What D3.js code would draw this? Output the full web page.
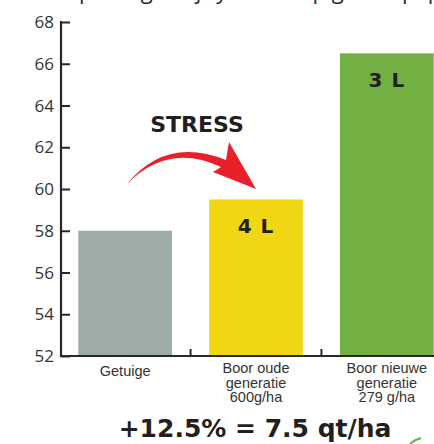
<!DOCTYPE html>
<html>
<head>
<meta charset="utf-8">
<script src="https://cdn.jsdelivr.net/npm/d3@7"></script>
<style>
  body { margin: 0; background: #fff; }
  svg { display: block; }
</style>
</head>
<body>
<div id="chart"></div>
<script>
"use strict";

// data
var categories = ["Getuige", "Boor oude generatie 600g/ha", "Boor nieuwe generatie 279 g/ha"];
var labelLines = [["Getuige"], ["Boor oude", "generatie", "600g/ha"], ["Boor nieuwe", "generatie", "279 g/ha"]];
var values = [58, 59.5, 66.5];
var barColors = ["#9dada6", "#efd713", "#72b043"];
var barTags = ["", "4 L", "3 L"];
var yTicks = [52, 54, 56, 58, 60, 62, 64, 66, 68];

var width = 434, height = 444;
var ink = "#2b2728";

var svg = d3.select("#chart")
  .append("svg")
    .attr("width", width)
    .attr("height", height);

// title, cut off at the top of the picture
svg.append("text")
    .attr("x", 62)
    .attr("y", -1)
    .style("font-family", "Open Sans, sans-serif")
    .style("font-size", "22px")
    .style("fill", ink)
    .text("Opbrengst bij ry stress op graan: pap");

// scales
var y = d3.scaleLinear()
  .domain([52, 68])
  .range([356, 22]);

var x = d3.scaleBand()
  .domain(categories)
  .range([60, 452])
  .paddingInner(0.284)
  .paddingOuter(0.14);

// bars
svg.selectAll(".bar")
  .data(values)
  .enter()
  .append("rect")
    .attr("class", "bar")
    .attr("x", function(d, i) { return x(categories[i]); })
    .attr("y", function(d) { return y(d); })
    .attr("width", x.bandwidth())
    .attr("height", function(d) { return y(52) - y(d); })
    .style("fill", function(d, i) { return barColors[i]; });

// dose tags inside bars
svg.selectAll(".tag")
  .data(values)
  .enter()
  .append("text")
    .attr("class", "tag")
    .attr("x", function(d, i) { return x(categories[i]) + x.bandwidth() / 2; })
    .attr("y", function(d) { return y(d) + 34; })
    .attr("text-anchor", "middle")
    .style("font-family", "DejaVu Sans, sans-serif")
    .style("font-weight", "bold")
    .style("font-size", "20px")
    .style("letter-spacing", "1px")
    .style("fill", "#231f20")
    .text(function(d, i) { return barTags[i]; });

// y axis
var yAxis = svg.append("g")
  .attr("transform", "translate(61,0)")
  .call(d3.axisRight(y).tickValues(yTicks).tickSize(9).tickFormat(""));
yAxis.select(".domain").remove();
yAxis.selectAll("line").style("stroke", ink).style("stroke-width", 2);

svg.selectAll(".ylab")
  .data(yTicks)
  .enter()
  .append("text")
    .attr("class", "ylab")
    .attr("x", 54)
    .attr("y", function(d) { return y(d) + 6; })
    .attr("text-anchor", "end")
    .style("font-family", "Open Sans, sans-serif")
    .style("font-size", "17px")
    .style("fill", "#333")
    .text(function(d) { return d; });

// axis lines
svg.append("line")
  .attr("x1", 61).attr("x2", 61)
  .attr("y1", y(68) - 1).attr("y2", y(52) + 1)
  .style("stroke", ink).style("stroke-width", 2.2);
svg.append("line")
  .attr("x1", 60).attr("x2", width)
  .attr("y1", y(52)).attr("y2", y(52))
  .style("stroke", ink).style("stroke-width", 2.2);

// x ticks between the bars
var gap = x.step() - x.bandwidth();
svg.selectAll(".xtick")
  .data(categories.slice(0, 2))
  .enter()
  .append("line")
    .attr("class", "xtick")
    .attr("x1", function(d) { return x(d) + x.bandwidth() + gap / 2; })
    .attr("x2", function(d) { return x(d) + x.bandwidth() + gap / 2; })
    .attr("y1", y(52))
    .attr("y2", y(52) - 7)
    .style("stroke", ink).style("stroke-width", 2);

// category labels
var labs = svg.selectAll(".xlab")
  .data(labelLines)
  .enter()
  .append("text")
    .attr("class", "xlab")
    .attr("text-anchor", "middle")
    .style("font-family", "Liberation Sans, Arial, sans-serif")
    .style("font-size", "14.5px")
    .style("fill", "#333")
    .attr("transform", function(d, i) {
      var cx = x(categories[i]) + x.bandwidth() / 2;
      return "translate(" + cx + "," + (d.length == 1 ? 376 : 373) + ")";
    });
labs.selectAll("tspan")
  .data(function(d) { return d; })
  .enter()
  .append("tspan")
    .attr("x", 0)
    .attr("dy", function(d, i) { return i == 0 ? 0 : 14.5; })
    .text(function(d) { return d; });

// STRESS annotation with red arrow
svg.append("text")
  .attr("x", 197)
  .attr("y", 132)
  .attr("text-anchor", "middle")
  .style("font-family", "DejaVu Sans, sans-serif")
  .style("font-weight", "bold")
  .style("font-size", "22px")
  .style("fill", "#231f20")
  .text("STRESS");

svg.append("path")
  .attr("d", "M127,184 Q166,136 226,160 L229,142 L256,189 L213,172 L221,167 Q168,142 127,184 Z")
  .style("fill", "#e8202a");

// bottom summary
svg.append("text")
  .attr("x", 255)
  .attr("y", 437)
  .attr("text-anchor", "middle")
  .style("font-family", "DejaVu Sans, sans-serif")
  .style("font-weight", "bold")
  .style("font-size", "25px")
  .style("fill", "#231f20")
  .text("+12.5% = 7.5 qt/ha");

// small green mark in the corner
svg.append("path")
  .attr("d", "M410,444 Q414,440 421,438")
  .style("fill", "none")
  .style("stroke", "#72b043")
  .style("stroke-width", 2);
</script>
</body>
</html>
